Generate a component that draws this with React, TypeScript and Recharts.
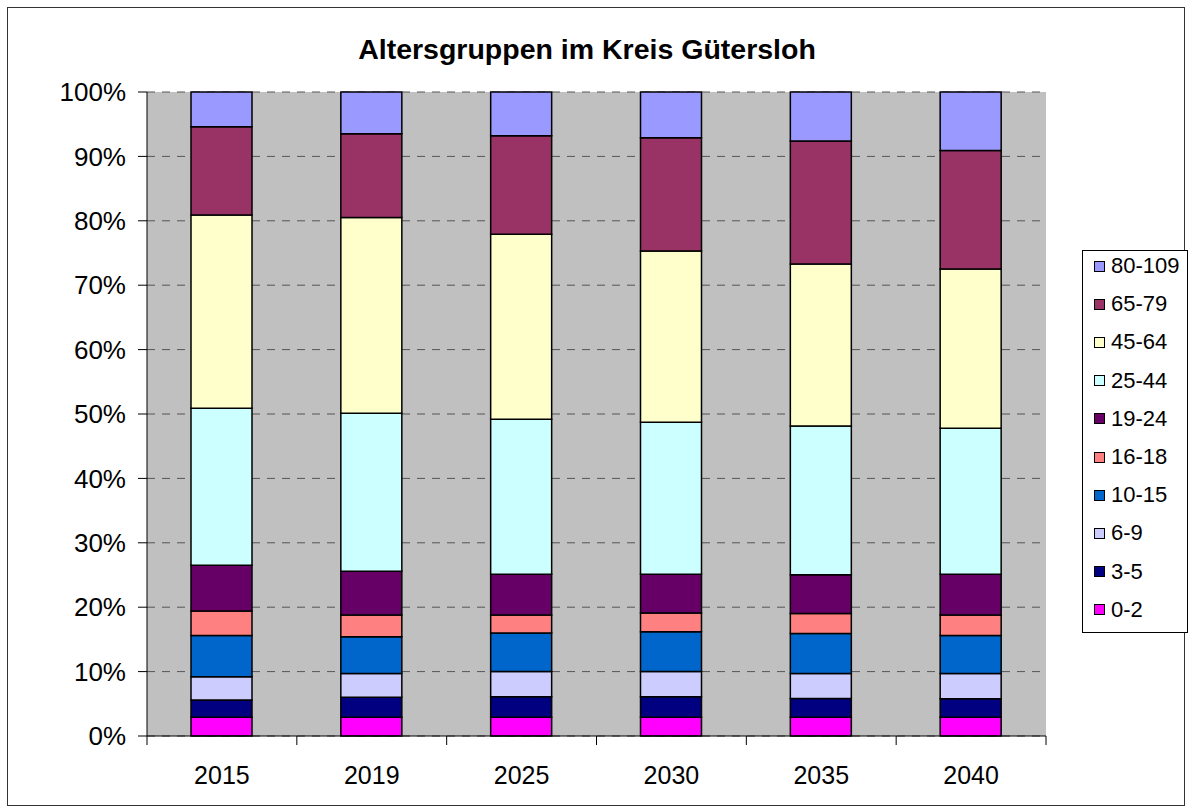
import { Bar, BarChart, CartesianGrid, XAxis, YAxis } from "recharts";

const years = ["2015", "2019", "2025", "2030", "2035", "2040"];

// share of each age group per year, in percent
const age0to2 = [2.9, 2.9, 2.9, 2.9, 2.9, 2.9];
const age3to5 = [2.7, 3.1, 3.2, 3.2, 2.9, 2.9];
const age6to9 = [3.6, 3.7, 3.9, 3.9, 3.9, 3.9];
const age10to15 = [6.4, 5.7, 6.0, 6.2, 6.2, 5.9];
const age16to18 = [3.8, 3.4, 2.8, 2.9, 3.1, 3.2];
const age19to24 = [7.1, 6.8, 6.3, 6.0, 6.0, 6.3];
const age25to44 = [24.4, 24.5, 24.1, 23.6, 23.1, 22.7];
const age45to64 = [30.0, 30.4, 28.7, 26.6, 25.1, 24.7];
const age65to79 = [13.7, 13.0, 15.3, 17.6, 19.1, 18.4];
const age80to109 = [5.4, 6.5, 6.8, 7.1, 7.6, 9.1];

const yTicks = [0, 0.1, 0.2, 0.3, 0.4, 0.5, 0.6, 0.7, 0.8, 0.9, 1];

const groups = [
  { key: "0-2", values: age0to2, color: "#FF00FF" },
  { key: "3-5", values: age3to5, color: "#000080" },
  { key: "6-9", values: age6to9, color: "#CCCCFF" },
  { key: "10-15", values: age10to15, color: "#0066CC" },
  { key: "16-18", values: age16to18, color: "#FF8080" },
  { key: "19-24", values: age19to24, color: "#660066" },
  { key: "25-44", values: age25to44, color: "#CCFFFF" },
  { key: "45-64", values: age45to64, color: "#FFFFCC" },
  { key: "65-79", values: age65to79, color: "#993366" },
  { key: "80-109", values: age80to109, color: "#9999FF" },
];

const data = years.map((year, i) => {
  const row: Record<string, string | number> = { year };
  groups.forEach((g) => {
    row[g.key] = g.values[i];
  });
  return row;
});

const W = 1192;
const H = 812;
const margin = { top: 92, right: 146, left: 67, bottom: 46 };
const Y_AXIS_W = 80;
const plotW = W - margin.left - Y_AXIS_W - margin.right;
const halfCat = plotW / years.length / 2;
const font = "'Liberation Sans', Arial, sans-serif";

function YearTick(props: any) {
  const { x, y, payload, index } = props;
  const last = index === years.length - 1;
  return (
    <g>
      <line x1={x - halfCat} x2={x - halfCat} y1={y} y2={y + 9} stroke="#000" />
      {last && <line x1={x + halfCat} x2={x + halfCat} y1={y} y2={y + 9} stroke="#000" />}
      <text x={x} y={y + 48} textAnchor="middle" fontSize={25} fontFamily={font} fill="#000">
        {payload.value}
      </text>
    </g>
  );
}

export default function App() {
  return (
    <div style={{ position: "absolute", left: 0, top: 0, width: W, height: H, background: "#fff" }}>
      <div
        style={{
          position: "absolute",
          left: 7,
          top: 7,
          width: 1176,
          height: 797,
          border: "1px solid #333",
        }}
      />
      <div
        style={{
          position: "absolute",
          left: 0,
          top: 33,
          width: 1174,
          textAlign: "center",
          fontFamily: font,
          fontWeight: "bold",
          fontSize: 28.5,
        }}
      >
        Altersgruppen im Kreis Gütersloh
      </div>
      <div style={{ position: "absolute", left: 0, top: 0 }}>
        <BarChart width={W} height={H} data={data} margin={margin} stackOffset="expand">
          <CartesianGrid
            vertical={false}
            fill="#C0C0C0"
            stroke="#555"
            strokeDasharray="8 7"
            horizontalValues={yTicks}
          />
          <XAxis
            dataKey="year"
            height={30}
            tick={<YearTick />}
            tickLine={false}
            tickSize={0}
            tickMargin={0}
            axisLine={{ stroke: "#000" }}
            interval={0}
          />
          <YAxis
            width={Y_AXIS_W}
            domain={[0, 1]}
            ticks={yTicks}
            tickFormatter={(v: number) => `${Math.round(v * 100)}%`}
            tick={{ fill: "#000", fontSize: 26, fontFamily: font }}
            tickSize={9}
            tickMargin={12}
            tickLine={{ stroke: "#000" }}
            axisLine={{ stroke: "#000" }}
          />
          {groups.map((g) => (
            <Bar
              key={g.key}
              dataKey={g.key}
              stackId="a"
              fill={g.color}
              stroke="#000"
              strokeWidth={1.5}
              barSize={61}
              isAnimationActive={false}
            />
          ))}
        </BarChart>
      </div>
      <div
        style={{
          position: "absolute",
          left: 1082,
          top: 250,
          width: 104,
          height: 381,
          border: "1px solid #000",
          background: "#fff",
          fontFamily: font,
          fontSize: 22,
        }}
      >
        {[...groups].reverse().map((g, i) => (
          <div
            key={g.key}
            style={{
              position: "absolute",
              left: 11,
              top: 2 + i * 38.2,
              height: 26,
              display: "flex",
              alignItems: "center",
            }}
          >
            <span
              style={{
                display: "inline-block",
                width: 9,
                height: 9,
                background: g.color,
                border: "1px solid #000",
                marginRight: 6,
                flexShrink: 0,
              }}
            />
            <span>{g.key}</span>
          </div>
        ))}
      </div>
    </div>
  );
}
